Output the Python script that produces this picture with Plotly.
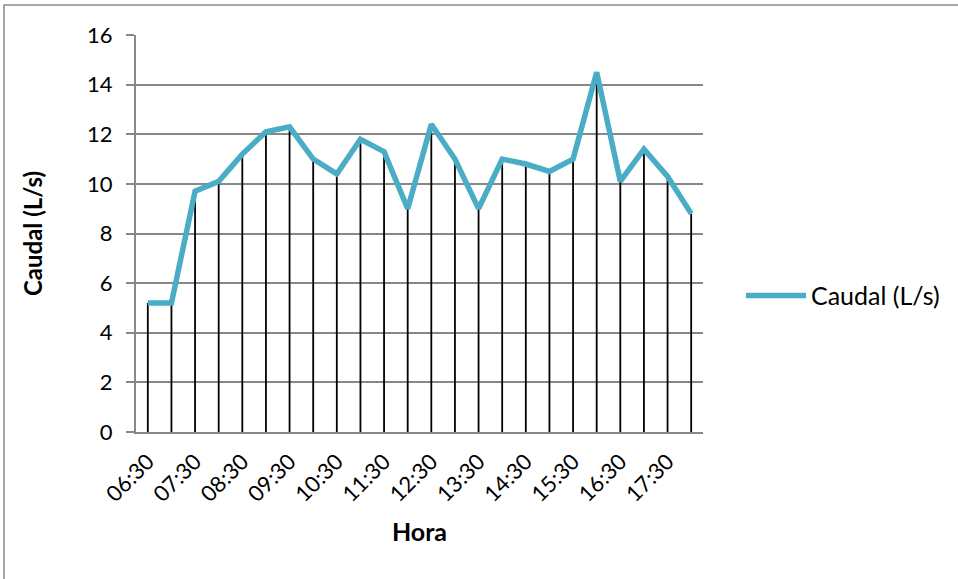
import plotly.graph_objects as go

horas = ["06:30", "07:00", "07:30", "08:00", "08:30", "09:00", "09:30", "10:00",
         "10:30", "11:00", "11:30", "12:00", "12:30", "13:00", "13:30", "14:00",
         "14:30", "15:00", "15:30", "16:00", "16:30", "17:00", "17:30", "18:00"]
caudal = [5.2, 5.2, 9.7, 10.1, 11.2, 12.1, 12.3, 11.0, 10.4, 11.8, 11.3, 9.0,
          12.4, 11.0, 9.0, 11.0, 10.8, 10.5, 11.0, 14.5, 10.1, 11.4, 10.3, 8.8]
tick_labels = horas[::2]
y_ticks = [0, 2, 4, 6, 8, 10, 12, 14, 16]

FONT = "Lato"

fig = go.Figure()
fig.add_trace(go.Scatter(
    x=horas, y=caudal, mode="lines", name="Caudal (L/s)",
    line=dict(color="#4BACC6", width=5.5),
    error_y=dict(type="data", symmetric=False, array=[0] * len(caudal),
                 arrayminus=caudal, width=0, color="black", thickness=1.8),
))

fig.update_layout(
    width=958, height=579,
    margin=dict(l=136, r=255, t=35, b=147),
    paper_bgcolor="white", plot_bgcolor="white",
    font=dict(family=FONT, size=22, color="black"),
    showlegend=True,
    legend=dict(x=1.067, y=0.343, xanchor="left", yanchor="middle",
                font=dict(size=25), itemwidth=60),
    xaxis=dict(
        type="category", tickmode="array", tickvals=tick_labels, ticktext=tick_labels,
        tickangle=-45, showgrid=False, showline=True, linecolor="#878787", linewidth=2,
        ticks="", range=[-0.5, len(horas) - 0.5], ticklabelstandoff=6,
        title=dict(text="<b>Hora</b>", font=dict(size=25), standoff=18),
        tickfont=dict(size=22),
    ),
    yaxis=dict(
        range=[0, 16], tickvals=y_ticks, showgrid=True, gridcolor="#878787", gridwidth=2,
        showline=True, linecolor="#878787", linewidth=2, ticks="outside", ticklen=8,
        tickcolor="#878787", tickwidth=2, zeroline=False, ticklabelstandoff=9,
        title=dict(text="<b>Caudal (L/s)</b>", font=dict(size=24), standoff=38),
        tickfont=dict(size=22),
    ),
    shapes=[dict(type="rect", xref="paper", yref="paper",
                 x0=(4 - 136) / 567, x1=(1000 - 136) / 567,
                 y0=(432 - 640) / 397, y1=(432 - 5) / 397,
                 line=dict(color="#8c8c8c", width=1.5), layer="below")],
)

fig.write_html("out.html")
